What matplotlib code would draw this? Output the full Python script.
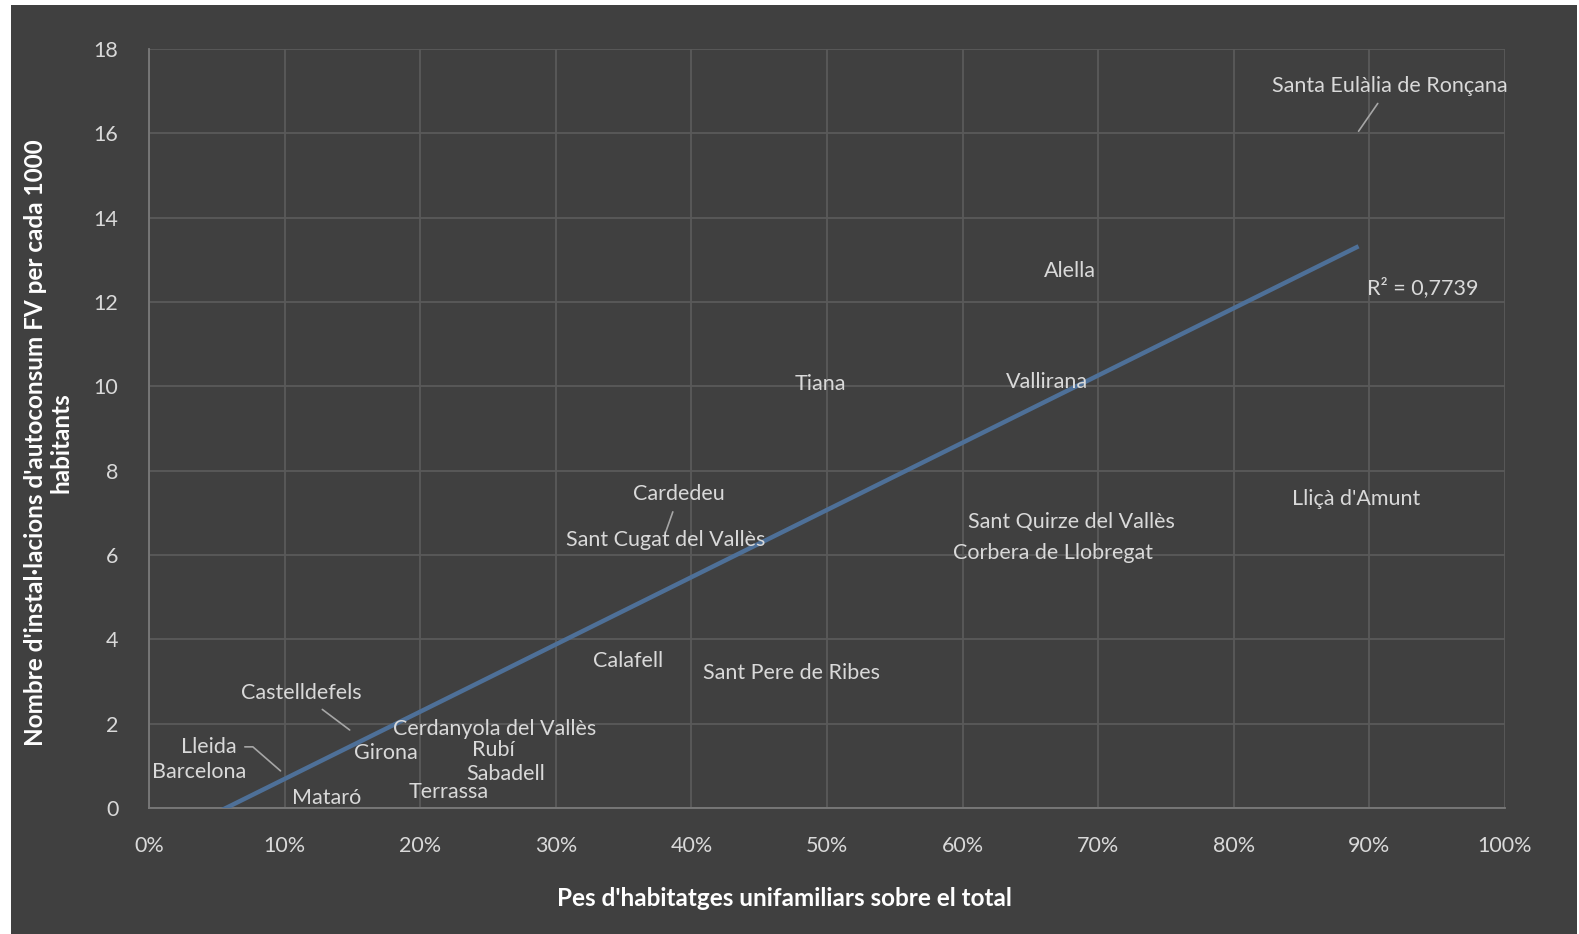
import numpy as np
import matplotlib
matplotlib.use("Agg")
import matplotlib.pyplot as plt
from matplotlib.patches import Rectangle
from matplotlib.ticker import FuncFormatter

# ---- data ----
names = ["Santa Eulàlia de Ronçana", "Alella", "Tiana", "Vallirana", "Cardedeu",
         "Sant Cugat del Vallès", "Lliçà d'Amunt", "Sant Quirze del Vallès",
         "Corbera de Llobregat", "Calafell", "Sant Pere de Ribes", "Castelldefels",
         "Cerdanyola del Vallès", "Lleida", "Girona", "Rubí", "Barcelona",
         "Sabadell", "Terrassa", "Mataró"]
share_unifamiliar = [0.892, 0.679, 0.495, 0.662, 0.381,
                     0.381, 0.890, 0.680,
                     0.667, 0.353, 0.474, 0.148,
                     0.255, 0.097, 0.175, 0.254, 0.037,
                     0.263, 0.221, 0.131]
installs_per_1000 = [16.05, 12.73, 10.06, 10.11, 6.54,
                     6.36, 7.33, 6.78,
                     6.05, 3.49, 3.21, 1.85,
                     1.87, 0.88, 1.30, 1.38, 0.85,
                     0.81, 0.38, 0.24]
trend_slope = 15.95
trend_intercept = -0.906
r2_text = "R² = 0,7739"
x_ticks = [0, 0.1, 0.2, 0.3, 0.4, 0.5, 0.6, 0.7, 0.8, 0.9, 1.0]
y_ticks = [0, 2, 4, 6, 8, 10, 12, 14, 16, 18]

# label placements for moved labels (data coords of label centre)
moved_labels = {
    "Santa Eulàlia de Ronçana": (0.915, 17.12, "arc3"),
    "Cardedeu": (0.391, 7.45, "arc3"),
    "Castelldefels": (0.112, 2.72, "arc3"),
    "Lleida": (0.044, 1.45, "angle,angleA=0,angleB=-41,rad=0"),
}

BG = "#404040"
TXT = "#d9d9d9"
GRID = "#5a5a5a"
LINE = "#4e7098"
FS = 15.5

plt.rcParams['font.family'] = ['Lato', 'DejaVu Sans']

fig = plt.figure(figsize=(15.79, 9.34), dpi=100, facecolor="white")
fig.patches.append(Rectangle((11/1579, 0), (1577-11)/1579, (934-5)/934,
                             transform=fig.transFigure, facecolor=BG,
                             edgecolor="none", zorder=-10))

ax = fig.add_axes([149/1579, (934-808)/934, (1505-149)/1579, (808-49)/934])
ax.set_facecolor(BG)
ax.set_xlim(0, 1.0)
ax.set_ylim(0, 18)
ax.set_xticks(x_ticks)
ax.set_yticks(y_ticks)
ax.xaxis.set_major_formatter(FuncFormatter(lambda v, p: f"{v*100:.0f}%"))
ax.grid(True, color=GRID, linewidth=1.3)
ax.set_axisbelow(True)
for s in ["top", "right"]:
    ax.spines[s].set_visible(False)
for s in ["left", "bottom"]:
    ax.spines[s].set_color("#7a7a7a")
    ax.spines[s].set_linewidth(1.3)
ax.tick_params(length=0, colors=TXT, labelsize=FS)
ax.tick_params(axis='x', pad=20)
ax.tick_params(axis='y', pad=22)

# invisible points
ax.scatter(share_unifamiliar, installs_per_1000, s=0, alpha=0)

# trend line
xs = np.array([min(share_unifamiliar), max(share_unifamiliar)])
ax.plot(xs, trend_slope * xs + trend_intercept, color=LINE, linewidth=3.2,
        solid_capstyle="butt", zorder=3)
ax.text(0.9395, 12.33, r2_text, color=TXT, fontsize=FS, ha="center", va="center")

for n, x, y in zip(names, share_unifamiliar, installs_per_1000):
    if n in moved_labels:
        lx, ly, cs = moved_labels[n]
        ax.annotate(n, xy=(x, y), xytext=(lx, ly), color=TXT, fontsize=FS,
                    ha="center", va="center", zorder=4,
                    arrowprops=dict(arrowstyle="-", color="#a6a6a6", lw=1.2,
                                    shrinkA=4, shrinkB=0, connectionstyle=cs))
    else:
        ax.text(x, y, n, color=TXT, fontsize=FS, ha="center", va="center", zorder=4)

fig.text((551+1018)/2/1579, (934-898)/934, "Pes d'habitatges unifamiliars sobre el total",
         color="white", fontsize=17.5, fontweight="bold", ha="center", va="center")
fig.text(48/1579, (934-443)/934,
         "Nombre d'instal·lacions d'autoconsum FV per cada 1000\nhabitants",
         color="white", fontsize=17.5, fontweight="bold", ha="center", va="center",
         rotation=90, linespacing=1.15, multialignment="center")

fig.savefig("out.png", dpi=100, facecolor="white")
